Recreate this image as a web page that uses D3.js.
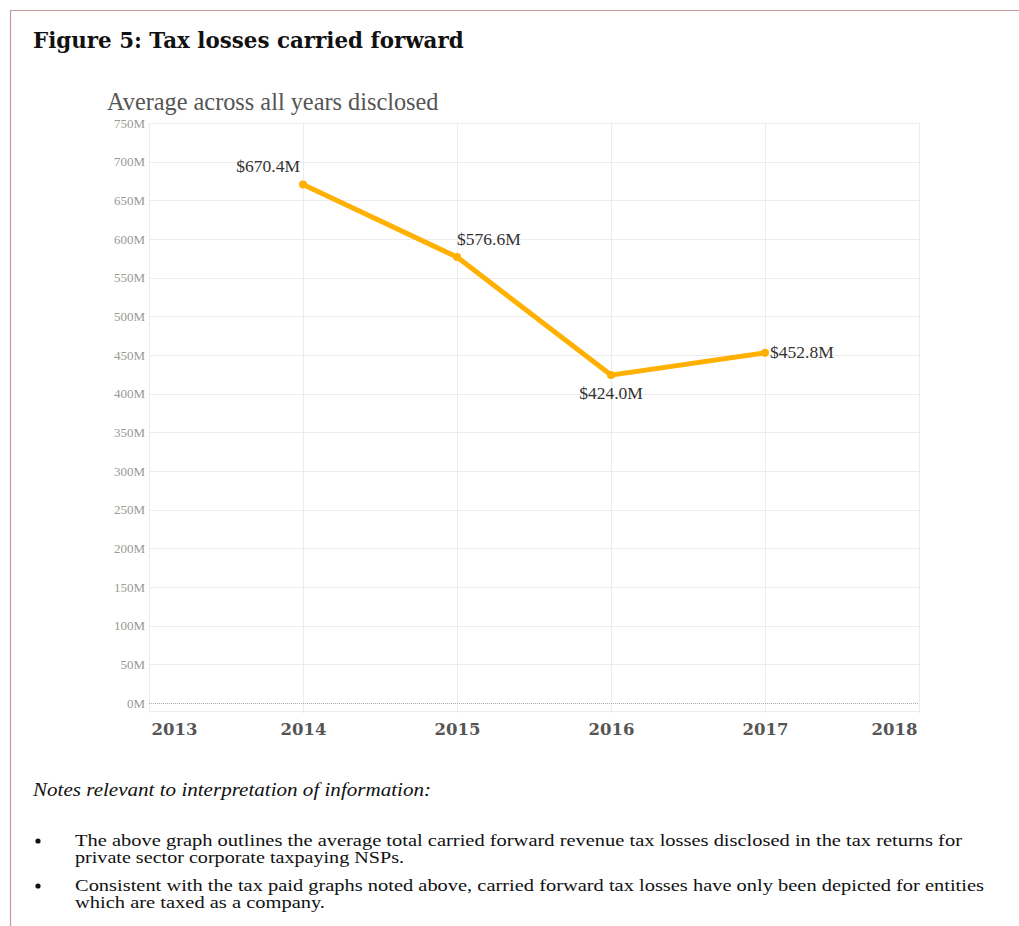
<!DOCTYPE html>
<html>
<head>
<meta charset="utf-8">
<script src="https://cdn.jsdelivr.net/npm/d3@7"></script>
<style>
  body { margin: 0; background: #fff; }
  svg text { font-family: "DejaVu Serif", "Liberation Serif", serif; }
</style>
</head>
<body>
<script>
'use strict';

// chart values
const years = [2014, 2015, 2016, 2017];
const losses = [670.4, 576.6, 424.0, 452.8];
const labels = ["$670.4M", "$576.6M", "$424.0M", "$452.8M"];
const yTicks = d3.range(0, 751, 50);
const xTicks = [2013, 2014, 2015, 2016, 2017, 2018];
const notes = [
  ["The above graph outlines the average total carried forward revenue tax losses disclosed in the tax returns for",
   "private sector corporate taxpaying NSPs."],
  ["Consistent with the tax paid graphs noted above, carried forward tax losses have only been depicted for entities",
   "which are taxed as a company."]
];
const noteWidths = [[887, 329], [909, 250]];

const W = 1019, H = 926;
const svg = d3.select('body').append('svg')
  .attr('width', W)
  .attr('height', H);

// page frame
svg.append('line').attr('x1', 10).attr('x2', W).attr('y1', 10.5).attr('y2', 10.5)
  .attr('stroke', '#c99a9a').attr('stroke-width', 1.2);
svg.append('line').attr('x1', 10.5).attr('x2', 10.5).attr('y1', 10).attr('y2', H)
  .attr('stroke', '#c99a9a').attr('stroke-width', 1.2);

// title
svg.append('text')
  .attr('x', 33).attr('y', 48)
  .style('font-size', '21.4px').style('font-weight', 'bold').attr('fill', '#111')
  .text('Figure 5: Tax losses carried forward');

svg.append('text')
  .attr('x', 107).attr('y', 110)
  .style('font-family', '"Liberation Serif", serif')
  .style('font-size', '24.3px').attr('fill', '#555')
  .text('Average across all years disclosed');

// scales
const x = d3.scaleLinear().domain([2013, 2018]).range([149, 919]);
const y = d3.scaleLinear().domain([0, 750]).range([703, 123]);

// gridlines
const grid = svg.append('g');
grid.selectAll('.hg').data(yTicks.filter(d => d > 0)).enter().append('line')
  .attr('x1', 149).attr('x2', 919)
  .attr('y1', d => Math.round(y(d)) + 0.5).attr('y2', d => Math.round(y(d)) + 0.5)
  .attr('stroke', '#ececec');
grid.append('line')
  .attr('x1', 149).attr('x2', 919).attr('y1', 711.5).attr('y2', 711.5)
  .attr('stroke', '#ececec');
grid.selectAll('.vg').data(xTicks).enter().append('line')
  .attr('x1', d => Math.round(x(d)) + 0.5).attr('x2', d => Math.round(x(d)) + 0.5)
  .attr('y1', 123).attr('y2', 713)
  .attr('stroke', '#ececec');
// zero line
grid.append('line')
  .attr('x1', 149).attr('x2', 919).attr('y1', y(0) + 0.5).attr('y2', y(0) + 0.5)
  .attr('stroke', '#aaa').attr('stroke-dasharray', '1,1');

// y axis labels
const yAxis = d3.axisLeft(y).tickValues(yTicks).tickSize(0).tickPadding(4)
  .tickFormat(d => d + 'M');
svg.append('g')
  .attr('transform', 'translate(149,0)')
  .call(yAxis)
  .call(g => g.select('.domain').remove())
  .call(g => g.selectAll('text')
    .style('font-family', '"Liberation Serif", serif')
    .style('font-size', '13px').attr('fill', '#999'));

// x axis labels
const xAxis = d3.axisBottom(x).tickValues(xTicks).tickSize(0).tickPadding(0)
  .tickFormat(d3.format('d'));
svg.append('g')
  .attr('transform', 'translate(0,720)')
  .call(xAxis)
  .call(g => g.select('.domain').remove())
  .call(g => g.selectAll('text')
    .attr('dy', '0.9em')
    .style('font-size', '16.5px').style('font-weight', 'bold').attr('fill', '#555')
    .attr('text-anchor', d => d === 2013 ? 'start' : d === 2018 ? 'end' : 'middle')
    .attr('x', d => d === 2013 ? 2 : d === 2018 ? -2 : 0));

// series line
const pts = years.map((yr, i) => ({ year: yr, value: losses[i], label: labels[i] }));
const line = d3.line().x(d => x(d.year)).y(d => y(d.value));
svg.append('path')
  .datum(pts)
  .attr('d', line)
  .attr('fill', 'none')
  .attr('stroke', '#ffb000')
  .attr('stroke-width', 5)
  .attr('stroke-linejoin', 'round');
svg.selectAll('.dot').data(pts).enter().append('circle')
  .attr('cx', d => x(d.year)).attr('cy', d => y(d.value))
  .attr('r', 4).attr('fill', '#ffb000');

// data labels
const labelPos = [
  { dx: -3, dy: -13, anchor: 'end' },
  { dx: 0, dy: -12, anchor: 'start' },
  { dx: 0, dy: 24, anchor: 'middle' },
  { dx: 5, dy: 5, anchor: 'start' }
];
svg.selectAll('.lbl').data(pts).enter().append('text')
  .attr('x', (d, i) => x(d.year) + labelPos[i].dx)
  .attr('y', (d, i) => y(d.value) + labelPos[i].dy)
  .attr('text-anchor', (d, i) => labelPos[i].anchor)
  .style('font-family', '"Liberation Serif", serif')
  .style('font-size', '17.5px').attr('fill', '#333')
  .text(d => d.label);

// notes
svg.append('text')
  .attr('x', 33).attr('y', 796)
  .style('font-family', '"Liberation Serif", serif')
  .style('font-size', '18px').style('font-style', 'italic').attr('fill', '#111')
  .attr('textLength', 398).attr('lengthAdjust', 'spacingAndGlyphs')
  .text('Notes relevant to interpretation of information:');

const noteTop = [846, 891];
notes.forEach((lines, i) => {
  svg.append('circle').attr('cx', 38).attr('cy', noteTop[i] - 5).attr('r', 2.6).attr('fill', '#111');
  lines.forEach((t, j) => {
    svg.append('text')
      .attr('x', 75).attr('y', noteTop[i] + j * 17)
      .style('font-family', '"Liberation Serif", serif')
      .style('font-size', '16.5px').attr('fill', '#111')
      .attr('textLength', noteWidths[i][j]).attr('lengthAdjust', 'spacingAndGlyphs')
      .text(t);
  });
});
</script>
</body>
</html>
